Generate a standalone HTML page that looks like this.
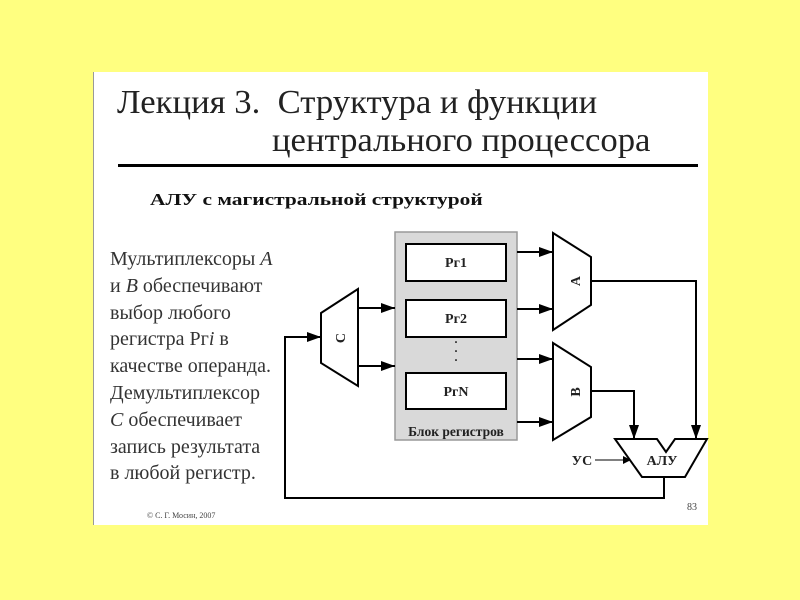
<!DOCTYPE html>
<html><head><meta charset="utf-8"><style>
body{margin:0;width:800px;height:600px;background:#ffff80;overflow:hidden;position:relative;font-family:"Liberation Serif",serif}
#page{position:absolute;left:93px;top:72px;width:614px;height:453px;background:#fff;border-left:1px solid #999}
.t{position:absolute;white-space:nowrap;color:#222;transform-origin:0 0}
</style></head><body>
<div id="page"></div>
<div class="t" style="left:117px;top:84px;font-size:34px;line-height:38px;transform:scaleX(1.02)">Лекция 3.&nbsp; Структура и функции</div>
<div class="t" style="left:272px;top:122px;font-size:34px;line-height:38px;transform:scaleX(1.02)">центрального процессора</div>
<div style="position:absolute;left:118px;top:164px;width:580px;height:3px;background:#000"></div>
<div class="t" style="left:150px;top:190px;font-size:17px;font-weight:bold;color:#111;transform:scaleX(1.26)">АЛУ с магистральной структурой</div>
<div class="t" style="left:110px;top:246px;font-size:20px;line-height:26.8px;color:#333">Мультиплексоры <i>A</i><br>и <i>B</i> обеспечивают<br>выбор любого<br>регистра Рг<i>i</i> в<br>качестве операнда.<br>Демультиплексор<br><i>C</i> обеспечивает<br>запись результата<br>в любой регистр.</div>
<div class="t" style="left:147px;top:511px;font-size:8px;color:#444">© С. Г. Мосин, 2007</div>
<div class="t" style="left:687px;top:502px;font-size:10px;color:#444">83</div>
<svg width="800" height="600" style="position:absolute;left:0;top:0" font-family="Liberation Serif,serif">
<defs><marker id="a" markerWidth="8" markerHeight="8" refX="7" refY="4" orient="auto" markerUnits="userSpaceOnUse"><path d="M0,0L8,4L0,8z" fill="#000"/></marker>
<marker id="b" markerWidth="14" markerHeight="10" refX="14" refY="5" orient="auto" markerUnits="userSpaceOnUse"><path d="M0,0L14,5L0,10z" fill="#000"/></marker></defs>
<g stroke="#000" stroke-width="2" fill="none">
<rect x="395" y="232" width="122" height="208" fill="#d9d9d9" stroke="#999" stroke-width="1.5"/>
<rect x="406" y="244" width="100" height="37" fill="#fff"/>
<rect x="406" y="300" width="100" height="37" fill="#fff"/>
<rect x="406" y="373" width="100" height="36" fill="#fff"/>
<polygon points="553,233 591,257 591,305 553,330" fill="#fff"/>
<polygon points="553,343 591,367 591,417 553,440" fill="#fff"/>
<polygon points="321,313 358,289 358,386 321,363" fill="#fff"/>
<polygon points="615,439 657,439 666,452 675,439 707,439 685,477 642,477" fill="#fff"/>
<line x1="517" y1="252" x2="553" y2="252" marker-end="url(#b)"/>
<line x1="517" y1="309" x2="553" y2="309" marker-end="url(#b)"/>
<line x1="517" y1="359" x2="553" y2="359" marker-end="url(#b)"/>
<line x1="517" y1="422" x2="553" y2="422" marker-end="url(#b)"/>
<line x1="358" y1="308" x2="395" y2="308" marker-end="url(#b)"/>
<line x1="358" y1="366" x2="395" y2="366" marker-end="url(#b)"/>
<polyline points="591,281 696,281 696,439" marker-end="url(#b)"/>
<polyline points="591,391 634,391 634,439" marker-end="url(#b)"/>
<polyline points="664,477 664,498 285,498 285,337 321,337" marker-end="url(#b)"/>
<line x1="595" y1="460" x2="630" y2="460" stroke-width="1" marker-end="url(#a)"/>
</g>
<g font-weight="bold" font-size="14" fill="#222" text-anchor="middle">
<text x="456" y="267">Рг1</text><text x="456" y="323">Рг2</text><text x="456" y="396">РгN</text>
<text x="456" y="436" font-size="13.5">Блок регистров</text>
<text x="662" y="465">АЛУ</text>
<text x="582" y="465">УС</text>
<text transform="translate(575,281) rotate(-90)" y="5">A</text>
<text transform="translate(575,392) rotate(-90)" y="5">B</text>
<text transform="translate(340,338) rotate(-90)" y="5">C</text>
<text x="456" y="346" font-size="12">·</text><text x="456" y="355" font-size="12">·</text><text x="456" y="364" font-size="12">·</text>
</g>
</svg>
</body></html>
